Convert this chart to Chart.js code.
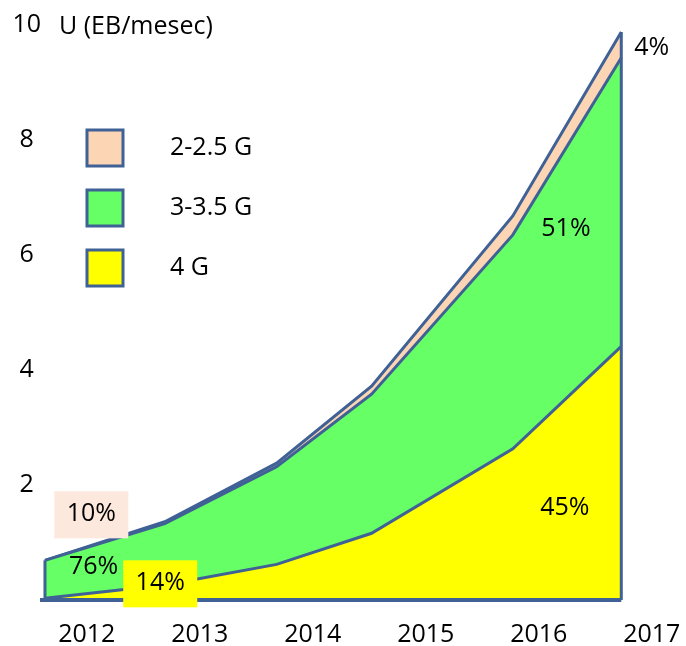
<!DOCTYPE html>
<html>
<head>
<meta charset="utf-8">
<script src="https://cdn.jsdelivr.net/npm/chart.js@4/dist/chart.umd.min.js"></script>
<style>
  html, body { margin: 0; padding: 0; background: #fff; }
  #wrap { width: 686px; height: 646px; }
</style>
</head>
<body>
<div id="wrap"><canvas id="chart"></canvas></div>
<script>
// tick labels / categories
var years = [2012, 2013, 2014, 2015, 2016, 2017];
// where the sample points sit along the year axis
var samplePos = [2011.63, 2012.69, 2013.68, 2014.52, 2015.77, 2016.73];
// traffic per technology, EB/month (stacked)
var g4 = [0.03, 0.26, 0.62, 1.16, 2.63, 4.41];
var g3 = [0.66, 1.07, 1.70, 2.42, 3.72, 5.02];
var g2 = [0.00, 0.03, 0.06, 0.14, 0.33, 0.45];
var seriesNames = ['4 G', '3-3.5 G', '2-2.5 G'];
var shareLabels = ['10%', '76%', '14%', '51%', '45%', '4%'];

var edge = '#3f6195';
var colors = ['#ffff00', '#66ff66', '#fcd5b5'];

function pts(vals) {
  return vals.map(function(v, i) { return { x: samplePos[i], y: v }; });
}

// annotation anchors in data units, plus optional background box
var notes = [
  { text: shareLabels[0], x: 2012.04, y: 1.49, bg: '#fce8dc' },
  { text: shareLabels[1], x: 2012.06, y: 0.57 },
  { text: shareLabels[2], x: 2012.65, y: 0.29, bg: '#ffff00' },
  { text: shareLabels[3], x: 2016.24, y: 6.46 },
  { text: shareLabels[4], x: 2016.23, y: 1.60 },
  { text: shareLabels[5], x: 2017.00, y: 9.60 }
];

var outline = {
  id: 'outline',
  afterDatasetsDraw: function(chart) {
    var c = chart.ctx, xs = chart.scales.x, ys = chart.scales.y;
    var n = samplePos.length - 1;
    var x0 = xs.getPixelForValue(samplePos[0]);
    var xn = xs.getPixelForValue(samplePos[n]);
    var t0 = ys.getPixelForValue(g4[0] + g3[0] + g2[0]);
    var tn = ys.getPixelForValue(g4[n] + g3[n] + g2[n]);
    var b = ys.getPixelForValue(0);
    c.save();
    c.strokeStyle = edge;
    c.lineJoin = 'round';
    c.lineWidth = 3;
    c.beginPath();
    c.moveTo(x0, t0); c.lineTo(x0, b);
    c.moveTo(xn, b); c.lineTo(xn, tn);
    c.stroke();
    c.lineWidth = 4;
    c.beginPath();
    c.moveTo(x0 - 5, b); c.lineTo(xn, b);
    c.stroke();
    c.restore();
  },
  afterDraw: function(chart) {
    var c = chart.ctx, xs = chart.scales.x, ys = chart.scales.y;
    c.save();
    c.font = '25px "Open Sans"';
    c.textAlign = 'center';
    c.textBaseline = 'middle';
    notes.forEach(function(n) {
      var px = xs.getPixelForValue(n.x), py = ys.getPixelForValue(n.y);
      if (n.bg) {
        c.fillStyle = n.bg;
        c.fillRect(px - 37, py - 23, 74, 47);
      }
      c.fillStyle = '#000';
      c.fillText(n.text, px, py);
    });
    // axis title beside the top tick
    c.textAlign = 'left';
    c.fillText('U (EB/mesec)', 59, ys.getPixelForValue(10) + 2);
    // legend, top entry first
    var ds = chart.data.datasets;
    for (var i = 0; i < ds.length; i++) {
      var d = ds[ds.length - 1 - i];
      var top = 130 + i * 60;
      c.fillStyle = d.backgroundColor;
      c.fillRect(87, top, 36, 36);
      c.lineWidth = 3;
      c.strokeStyle = edge;
      c.strokeRect(87, top, 36, 36);
      c.fillStyle = '#000';
      c.fillText(d.label, 170, top + 18);
    }
    c.restore();
  }
};

Chart.defaults.font.family = '"Open Sans", sans-serif';
Chart.defaults.font.size = 25;
Chart.defaults.color = '#000';

var ctx = document.getElementById('chart').getContext('2d');
var chart = new Chart(ctx, {
  type: 'line',
  data: {
    datasets: [g4, g3, g2].map(function(vals, i) {
      return {
        label: seriesNames[i],
        data: pts(vals),
        backgroundColor: colors[i],
        borderColor: edge,
        borderWidth: 3,
        fill: i === 0 ? 'origin' : '-1',
        pointRadius: 0,
        tension: 0,
        clip: false
      };
    })
  },
  options: {
    responsive: true,
    maintainAspectRatio: false,
    animation: false,
    layout: { padding: { top: 25, left: 0, right: 2, bottom: 0 } },
    plugins: {
      legend: { display: false },
      tooltip: { enabled: false }
    },
    scales: {
      x: {
        type: 'linear',
        min: 2011.639,
        max: 2017.285,
        grid: { display: false, drawTicks: false },
        border: { display: false },
        afterBuildTicks: function(scale) {
          scale.ticks = years.map(function(y) { return { value: y }; });
        },
        afterFit: function(scale) {
          scale.height = 46;
          scale.paddingLeft = 0;
          scale.paddingRight = 0;
        },
        ticks: {
          padding: 20,
          maxRotation: 0,
          callback: function(v) { return String(v); }
        }
      },
      y: {
        stacked: true,
        min: 0,
        max: 10,
        grid: { display: false, drawTicks: false },
        border: { display: false },
        afterFit: function(scale) { scale.width = 46; },
        ticks: {
          stepSize: 2,
          padding: 5,
          crossAlign: 'center',
          callback: function(v) { return v === 0 ? '' : String(v); }
        }
      }
    }
  },
  plugins: [outline]
});
</script>
</body>
</html>
